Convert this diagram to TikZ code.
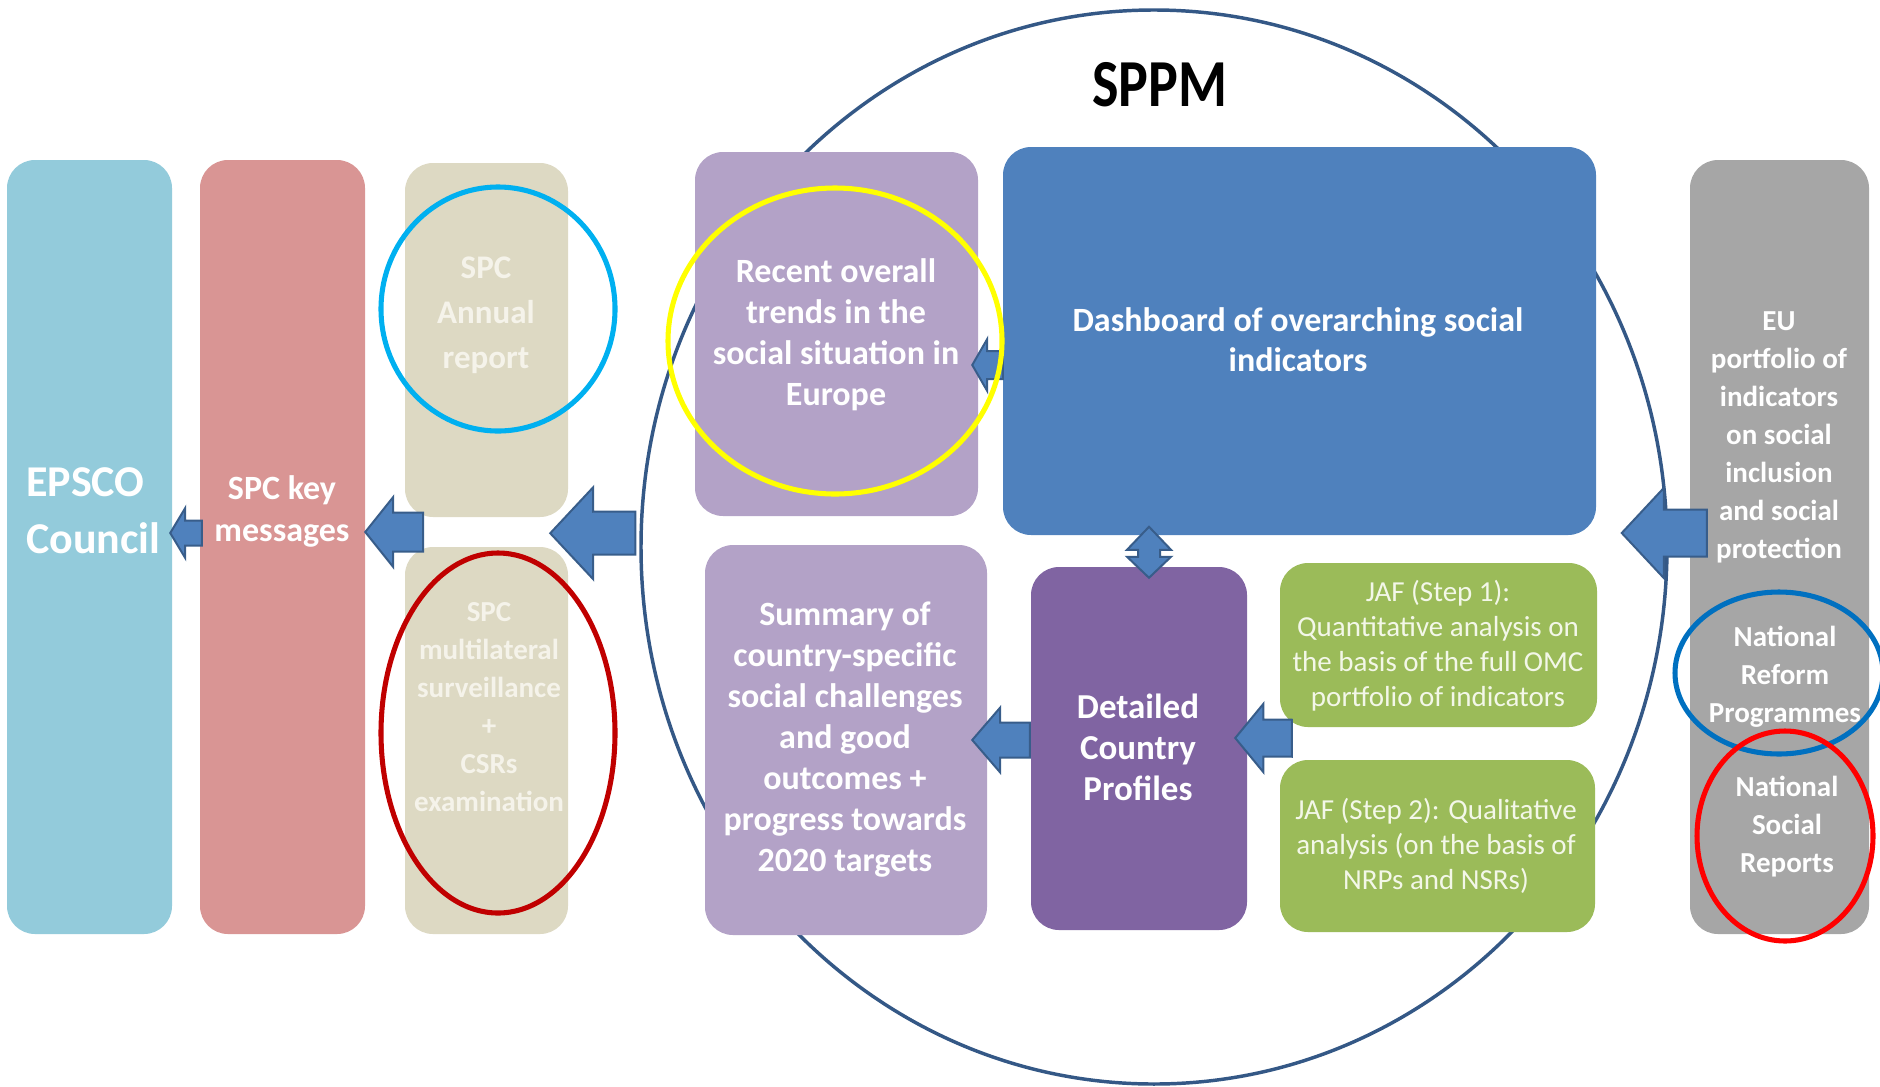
\documentclass[tikz,border=0pt]{standalone}
\usepackage{fontspec}
\setmainfont{Carlito}
\usepackage{graphicx}
\usetikzlibrary{calc,fit,shapes.geometric}

\tikzset{every picture/.style={line width=0.35pt}}
\tikzset{
  panel/.style={rounded corners=21pt, inner sep=0pt, draw=none},
  boxtext/.style={align=center, text=white, inner sep=0pt},
  blockfill/.style={fill={rgb, 255:red, 79; green, 129; blue, 189}, draw={rgb, 255:red, 56; green, 93; blue, 138}, line width=1.5pt, line join=miter},
  ring/.style={ellipse, draw={rgb, 255:red, 52; green, 88; blue, 134}, line width=2.6pt, inner sep=0pt},
  highlight/.style={line width=3.8pt},
}
\newcommand{\fs}[2]{\fontsize{#1}{#2}\selectfont}
% tail, tip, head length, head half width, shaft half width
\newcommand{\blockarrow}[5]{%
  \draw[blockfill] (#2) -- ($(#2)+(#3,-#4)$) -- ($(#2)+(#3,-#5)$) -- ($(#1)+(0,-#5)$) -- ($(#1)+(0,#5)$) -- ($(#2)+(#3,#5)$) -- ($(#2)+(#3,#4)$) -- cycle;}

\begin{document}
\begin{tikzpicture}[x=0.75pt,y=0.75pt,yscale=-1]
  \useasboundingbox (0,0) rectangle (1880,1086);

  \node[ring, minimum width=769.5pt, minimum height=805.5pt] (ring) at (1154,547) {};

  \node[panel, fit={(7,160) (172,934)}, fill={rgb, 255:red, 147; green, 203; blue, 219}] (epsco) {};
  \node[panel, fit={(200,160) (365,934)}, fill={rgb, 255:red, 217; green, 149; blue, 148}] (keymsg) {};
  \node[panel, fit={(405,163) (568,517)}, fill={rgb, 255:red, 221; green, 217; blue, 195}] (annual) {};
  \node[panel, fit={(405,547) (568,934)}, fill={rgb, 255:red, 221; green, 217; blue, 195}] (multi) {};
  \node[panel, fit={(695,152) (978,516)}, fill={rgb, 255:red, 179; green, 162; blue, 199}] (trends) {};
  \node[panel, fit={(1003,147) (1596,535)}, fill={rgb, 255:red, 79; green, 129; blue, 189}] (dash) {};
  \node[panel, fit={(705,545) (987,935)}, fill={rgb, 255:red, 179; green, 162; blue, 199}] (summary) {};
  \node[panel, fit={(1031,567) (1247,930)}, fill={rgb, 255:red, 128; green, 100; blue, 162}] (profiles) {};
  \node[panel, fit={(1280,563) (1597,727)}, fill={rgb, 255:red, 155; green, 187; blue, 89}] (jaf1) {};
  \node[panel, fit={(1280,760) (1595,932)}, fill={rgb, 255:red, 155; green, 187; blue, 89}] (jaf2) {};
  \node[panel, fit={(1690,160) (1869,934)}, fill={rgb, 255:red, 166; green, 166; blue, 166}] (portfolio) {};

  \node[boxtext, text=black, font=\fs{42}{50}\bfseries] (title) at (1160,85) {\scalebox{1}[1.2]{SPPM}};
  \node[boxtext, align=left, anchor=west, font=\fs{33}{43}\bfseries] (epscoText) at (26,511) {EPSCO\\Council};
  \node[boxtext, font=\fs{25.5}{32}\bfseries] (keymsgText) at (282,511.5) {SPC key\\messages};
  \node[boxtext, text={rgb, 255:red, 245; green, 243; blue, 234}, font=\fs{24.75}{33.75}\bfseries] (annualText) at (486,315) {SPC\\Annual\\report};
  \node[boxtext, text={rgb, 255:red, 245; green, 243; blue, 234}, font=\fs{21.75}{28.5}\bfseries] (multiText) at (489,707) {SPC\\multilateral\\surveillance\\+\\CSRs\\examination};
  \node[boxtext, font=\fs{25.5}{30.75}\bfseries] (trendsText) at (836,335) {Recent overall\\trends in the\\social situation in\\Europe};
  \node[boxtext, font=\fs{25.5}{30}\bfseries] (dashText) at (1298,340) {Dashboard of overarching social\\indicators};
  \node[boxtext, font=\fs{25.5}{30.75}\bfseries] (summaryText) at (845,740) {Summary of\\country-specific\\social challenges\\and good\\outcomes +\\progress towards\\2020 targets};
  \node[boxtext, font=\fs{26.25}{30.75}\bfseries] (profilesText) at (1138,747) {Detailed\\Country\\Profiles};
  \node[boxtext, text={rgb, 255:red, 243; green, 247; blue, 232}, font=\fs{21.75}{26.25}] (jaf1Text) at (1438,645.5) {JAF (Step 1):\\Quantitative analysis on\\the basis of the full OMC\\portfolio of indicators};
  \node[boxtext, text={rgb, 255:red, 243; green, 247; blue, 232}, font=\fs{21.75}{26.25}] (jaf2Text) at (1436,846) {JAF (Step 2): Qualitative\\analysis (on the basis of\\NRPs and NSRs)};
  \node[boxtext, font=\fs{21.75}{28.5}\bfseries] (portfolioText) at (1779,437) {EU\\portfolio of\\indicators\\on social\\inclusion\\and social\\protection};
  \node[boxtext, font=\fs{21.75}{28.5}\bfseries] (nrpText) at (1785,677) {National\\Reform\\Programmes};
  \node[boxtext, font=\fs{21.75}{28.5}\bfseries] (nsrText) at (1787,827) {National\\Social\\Reports};

  % arrow ends
  \coordinate (epscoIn) at ($(epsco.east)+(-2,-14)$);
  \coordinate (keymsgOut) at ($(keymsg.west)+(2,-14)$);
  \coordinate (keymsgIn) at ($(keymsg.east)+(0,-15)$);
  \coordinate (spcOut) at ($(keymsg.east)+(58,-15)$);
  \coordinate (spcIn) at ($(annual.south east)+(-18,16)$);
  \coordinate (ringWest) at ($(ring.west)+(-4,-14)$);
  \coordinate (trendsIn) at ($(trends.east)+(-6,31)$);
  \coordinate (dashOut) at ($(dash.west)+(0,24)$);
  \coordinate (summaryIn) at ($(summary.east)+(-15,0)$);
  \coordinate (profilesOut) at ($(profiles.west)+(-1,-8.5)$);
  \coordinate (profilesIn) at ($(profiles.east)+(-12,-10.5)$);
  \coordinate (jafOut) at ($(jaf1.south west)+(12,11)$);
  \coordinate (ringEast) at ($(ring.east)+(-47,-14)$);
  \coordinate (portfolioOut) at ($(portfolio.west)+(17,-14)$);
  \coordinate (linkTop) at ($(profiles.north)+(10,-40)$);

  \blockarrow{keymsgOut}{epscoIn}{15}{25}{12.5}
  \blockarrow{spcOut}{keymsgIn}{28}{35}{19.5}
  \blockarrow{ringWest}{spcIn}{43}{46}{21.5}
  \blockarrow{dashOut}{trendsIn}{15}{26}{14}
  \blockarrow{profilesOut}{summaryIn}{28}{32.5}{17.5}
  \blockarrow{jafOut}{profilesIn}{28}{34}{18.5}
  \blockarrow{portfolioOut}{ringEast}{42}{45}{23.5}
  \draw[blockfill] (linkTop) -- ++(22,23) -- ++(-11,0) -- ++(0,7) -- ++(11,0) -- ++(-22,21) -- ++(-22,-21) -- ++(11,0) -- ++(0,-7) -- ++(-11,0) -- cycle;

  \draw[highlight, draw={rgb, 255:red, 0; green, 176; blue, 240}] (498,309) ellipse [x radius=117, y radius=122];
  \draw[highlight, draw={rgb, 255:red, 192; green, 0; blue, 0}] (498,733) ellipse [x radius=117, y radius=180];
  \draw[highlight, draw={rgb, 255:red, 255; green, 255; blue, 0}] (835,341) ellipse [x radius=167, y radius=153];
  \draw[highlight, draw={rgb, 255:red, 0; green, 112; blue, 192}] (1779,673) ellipse [x radius=104, y radius=81];
  \draw[highlight, draw={rgb, 255:red, 255; green, 0; blue, 0}] (1785,836) ellipse [x radius=88, y radius=105];

\end{tikzpicture}
\end{document}
